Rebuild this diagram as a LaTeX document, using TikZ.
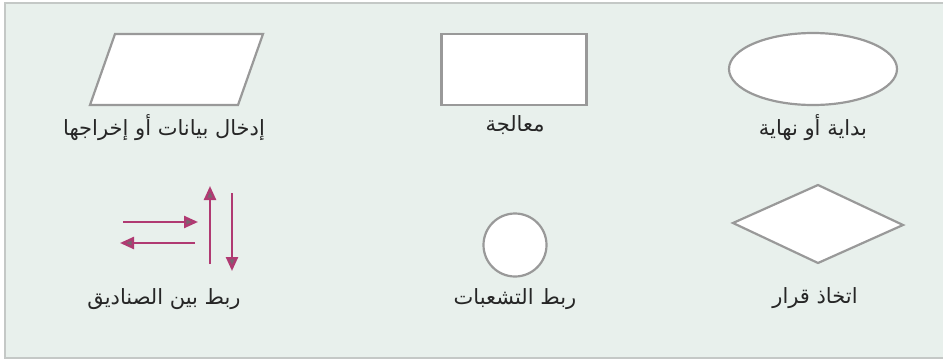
\documentclass[tikz,border=0pt]{standalone}
\usepackage{fontspec}
\newfontfamily\arabicfont[Script=Arabic]{DejaVu Sans}
\TeXXeTstate=1
\usetikzlibrary{shapes.geometric,arrows.meta}
\definecolor{bgc}{HTML}{E8F0EC}
\definecolor{framec}{HTML}{C4C8C6}
\definecolor{shapec}{HTML}{999999}
\definecolor{arrc}{HTML}{B03A72}
\definecolor{tipc}{HTML}{7A6470}
\tikzset{
  x=1pt,y=-1pt,
  shapeline/.style={draw=shapec,line width=2.2pt,fill=white},
  lbl/.style={font=\arabicfont\fontsize{21}{24}\selectfont,text=black!85,inner sep=0pt},
  flowarrow/.style={draw=arrc,line width=2.4pt,-{Triangle[length=14pt,width=12pt,fill=tipc]}}
}
\begin{document}
\begin{tikzpicture}
\useasboundingbox (0,0) rectangle (943,359);
\fill[bgc] (5,3) rectangle (943,358);
\draw[framec,line width=1.8pt] (943,3) -- (5,3) -- (5,358) -- (943,358);
% parallelogram
\coordinate (p1) at (115,34);
\coordinate (p2) at (263,34);
\coordinate (p3) at (238,105);
\coordinate (p4) at (90,105);
\draw[shapeline] (p1) -- (p2) -- (p3) -- (p4) -- cycle;
\node[lbl] (t1) at (164,128) {\beginR إدخال بيانات أو إخراجها\endR};
% rectangle
\node[shapeline,minimum width=145pt,minimum height=71pt,inner sep=0pt] (r) at (514,69.5) {};
\node[lbl] (t2) at (515,125) {\beginR معالجة\endR};
% ellipse
\node[shapeline,ellipse,minimum width=168pt,minimum height=72pt,inner sep=0pt] (e) at (813,69) {};
\node[lbl] (t3) at (813,128) {\beginR بداية أو نهاية\endR};
% arrows
\coordinate (a1s) at (123,222);
\coordinate (a1e) at (198,222);
\coordinate (a2s) at (195,243);
\coordinate (a2e) at (120,243);
\coordinate (a3s) at (210,264);
\coordinate (a3e) at (210,186);
\coordinate (a4s) at (232,193);
\coordinate (a4e) at (232,271);
\draw[flowarrow] (a1s) -- (a1e);
\draw[flowarrow] (a2s) -- (a2e);
\draw[flowarrow] (a3s) -- (a3e);
\draw[flowarrow] (a4s) -- (a4e);
\node[lbl] (t4) at (164,299) {\beginR ربط بين الصناديق\endR};
% circle
\node[shapeline,circle,minimum size=63pt,inner sep=0pt] (c) at (515,245) {};
\node[lbl] (t5) at (515,299) {\beginR ربط التشعبات\endR};
% diamond
\coordinate (d1) at (733,223);
\coordinate (d2) at (818,185);
\coordinate (d3) at (903,225);
\coordinate (d4) at (818,263);
\draw[shapeline] (d1) -- (d2) -- (d3) -- (d4) -- cycle;
\node[lbl] (t6) at (815,298) {\beginR اتخاذ قرار\endR};
\end{tikzpicture}
\end{document}
